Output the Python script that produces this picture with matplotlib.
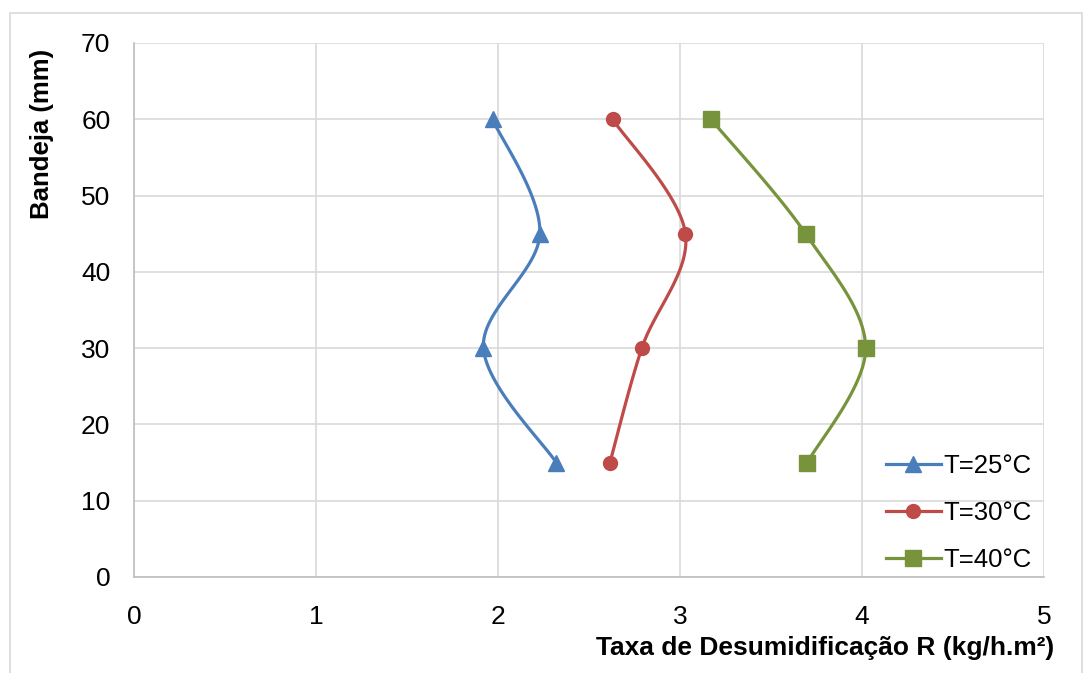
import numpy as np
import matplotlib
matplotlib.use("Agg")
import matplotlib.pyplot as plt
from matplotlib.patches import Rectangle

plt.rcParams['font.family'] = ['Liberation Sans', 'DejaVu Sans']

# Data
bandeja = [60, 45, 30, 15]
r_25 = [1.97, 2.23, 1.92, 2.32]
r_30 = [2.63, 3.03, 2.79, 2.615]
r_40 = [3.17, 3.69, 4.02, 3.70]
series_labels = ["T=25°C", "T=30°C", "T=40°C"]
colors = ["#4A7EBB", "#BE4B48", "#77933C"]
markers = ["^", "o", "s"]
msizes = [11, 10, 11]
x_ticks = [0, 1, 2, 3, 4, 5]
y_ticks = [0, 10, 20, 30, 40, 50, 60, 70]

W, H = 1084, 673
fig = plt.figure(figsize=(W / 100, H / 100), dpi=100)
ax = fig.add_axes([134 / W, 1 - 577 / H, (1044 - 134) / W, (577 - 43) / H])

# outer frame
fig.patches.append(Rectangle((10 / W, -0.01), (1082 - 10) / W, 1 - 13 / H + 0.01,
                             transform=fig.transFigure, fill=False,
                             edgecolor="#D9D9D9", linewidth=1.2))

xscale = 182.0
yscale = 7.63


def smooth(xs, ys, n=40):
    # Excel-like Bezier smoothing computed in pixel-scaled space
    P = np.column_stack([np.array(xs) * xscale, np.array(ys) * yscale])
    pts = [P[0]] + list(P) + [P[-1]]
    out = []
    for i in range(1, len(pts) - 2):
        p0, p1, p2, p3 = pts[i - 1], pts[i], pts[i + 1], pts[i + 2]
        c1 = p1 + (p2 - p0) / 6.0
        c2 = p2 - (p3 - p1) / 6.0
        t = np.linspace(0, 1, n)[:, None]
        seg = ((1 - t) ** 3) * p1 + 3 * ((1 - t) ** 2) * t * c1 + 3 * (1 - t) * t ** 2 * c2 + t ** 3 * p2
        out.append(seg if i == 1 else seg[1:])
    out = np.vstack(out)
    return out[:, 0] / xscale, out[:, 1] / yscale


handles = []
for xs, lab, c, m, ms in zip([r_25, r_30, r_40], series_labels, colors, markers, msizes):
    sx, sy = smooth(xs, bandeja)
    ax.plot(sx, sy, color=c, linewidth=2.3, solid_capstyle="round", zorder=3)
    ax.plot(xs, bandeja, linestyle="none", marker=m, color=c, markersize=ms, zorder=4)
    h, = ax.plot([], [], color=c, linewidth=2.3, marker=m, markersize=ms, label=lab)
    handles.append(h)

ax.set_xlim(0, 5)
ax.set_ylim(0, 70)
ax.set_xticks(x_ticks)
ax.set_yticks(y_ticks)
ax.grid(True, color="#D9D9D9", linewidth=1.2)
ax.set_axisbelow(True)
for s in ["top", "right"]:
    ax.spines[s].set_visible(False)
for s in ["left", "bottom"]:
    ax.spines[s].set_color("#BFBFBF")
    ax.spines[s].set_linewidth(1.2)
ax.tick_params(axis="both", length=0, labelsize=19, colors="black")
ax.tick_params(axis="x", pad=20)
ax.tick_params(axis="y", pad=17)

fig.text(1054 / W, 1 - 648 / H, "Taxa de Desumidificação R (kg/h.m²)", ha="right", va="center",
         fontsize=19, fontweight="bold")
fig.text(42 / W, 1 - 134 / H, "Bandeja (mm)", ha="center", va="center", rotation=90,
         fontsize=18.5, fontweight="bold")

leg = ax.legend(handles=handles, loc="lower right", bbox_to_anchor=(0.992, 0.0),
                frameon=False, fontsize=18.5, handlelength=2.15, handletextpad=0.1,
                labelspacing=0.89, borderaxespad=0.0, borderpad=0.2)

fig.savefig("out.png", dpi=100)
